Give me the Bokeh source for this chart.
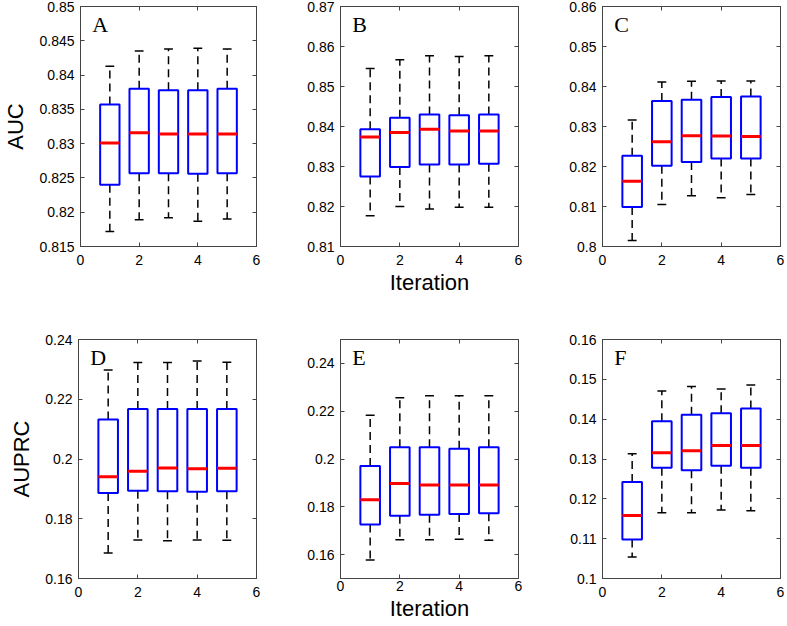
from bokeh.plotting import figure
from bokeh.models import LinearAxis, Range1d, FixedTicker, Label, ColumnDataSource
from bokeh.layouts import column, row
from bokeh.transform import dodge
from bokeh.embed import file_html
from bokeh.resources import INLINE

iterations = [1, 2, 3, 4, 5]

# Panel A (AUC)
a_low = [0.8172, 0.8189, 0.8192, 0.8187, 0.8190]
a_q1 = [0.8240, 0.8257, 0.8257, 0.8256, 0.8257]
a_med = [0.8301, 0.8316, 0.8314, 0.8314, 0.8314]
a_q3 = [0.8357, 0.8380, 0.8378, 0.8378, 0.8380]
a_high = [0.8413, 0.8435, 0.8438, 0.8439, 0.8438]

# Panel B (AUC)
b_low = [0.8177, 0.8200, 0.8194, 0.8198, 0.8198]
b_q1 = [0.8275, 0.8299, 0.8305, 0.8305, 0.8307]
b_med = [0.8374, 0.8385, 0.8393, 0.8389, 0.8389]
b_q3 = [0.8393, 0.8422, 0.8430, 0.8428, 0.8430]
b_high = [0.8545, 0.8567, 0.8577, 0.8575, 0.8577]

# Panel C (AUC)
c_low = [0.8015, 0.8105, 0.8127, 0.8122, 0.8130]
c_q1 = [0.8099, 0.8202, 0.8211, 0.8220, 0.8220]
c_med = [0.8163, 0.8262, 0.8277, 0.8276, 0.8275]
c_q3 = [0.8227, 0.8364, 0.8367, 0.8374, 0.8375]
c_high = [0.8316, 0.8411, 0.8413, 0.8414, 0.8414]

# Panel D (AUPRC)
d_low = [0.1685, 0.1729, 0.1726, 0.1729, 0.1728]
d_q1 = [0.1886, 0.1894, 0.1892, 0.1890, 0.1892]
d_med = [0.1941, 0.1959, 0.1970, 0.1967, 0.1969]
d_q3 = [0.2132, 0.2167, 0.2167, 0.2167, 0.2167]
d_high = [0.2298, 0.2323, 0.2323, 0.2328, 0.2324]

# Panel E (AUPRC)
e_low = [0.1577, 0.1662, 0.1662, 0.1664, 0.1660]
e_q1 = [0.1726, 0.1763, 0.1767, 0.1770, 0.1773]
e_med = [0.1829, 0.1898, 0.1891, 0.1891, 0.1891]
e_q3 = [0.1971, 0.2049, 0.2049, 0.2043, 0.2049]
e_high = [0.2183, 0.2256, 0.2265, 0.2265, 0.2265]

# Panel F (AUPRC)
f_low = [0.1054, 0.1165, 0.1165, 0.1172, 0.1170]
f_q1 = [0.1098, 0.1278, 0.1272, 0.1283, 0.1278]
f_med = [0.1158, 0.1316, 0.1321, 0.1334, 0.1334]
f_q3 = [0.1242, 0.1395, 0.1411, 0.1415, 0.1427]
f_high = [0.1313, 0.1471, 0.1482, 0.1476, 0.1486]

panel_letters = ["A", "B", "C", "D", "E", "F"]
y_ranges = [(0.815, 0.85), (0.81, 0.87), (0.80, 0.86),
            (0.16, 0.24), (0.15, 0.25), (0.10, 0.16)]
y_ticks = [
    [0.815, 0.82, 0.825, 0.83, 0.835, 0.84, 0.845, 0.85],
    [0.81, 0.82, 0.83, 0.84, 0.85, 0.86, 0.87],
    [0.80, 0.81, 0.82, 0.83, 0.84, 0.85, 0.86],
    [0.16, 0.18, 0.20, 0.22, 0.24],
    [0.16, 0.18, 0.20, 0.22, 0.24],
    [0.10, 0.11, 0.12, 0.13, 0.14, 0.15, 0.16],
]
y_tick_labels = [
    ["0.815", "0.82", "0.825", "0.83", "0.835", "0.84", "0.845", "0.85"],
    ["0.81", "0.82", "0.83", "0.84", "0.85", "0.86", "0.87"],
    ["0.8", "0.81", "0.82", "0.83", "0.84", "0.85", "0.86"],
    ["0.16", "0.18", "0.2", "0.22", "0.24"],
    ["0.16", "0.18", "0.2", "0.22", "0.24"],
    ["0.1", "0.11", "0.12", "0.13", "0.14", "0.15", "0.16"],
]
x_ticks = [0, 2, 4, 6]
y_axis_labels = ["AUC", "", "", "AUPRC", "", ""]
x_axis_labels = ["", "Iteration", "", "", "Iteration", ""]

data = [
    (a_low, a_q1, a_med, a_q3, a_high),
    (b_low, b_q1, b_med, b_q3, b_high),
    (c_low, c_q1, c_med, c_q3, c_high),
    (d_low, d_q1, d_med, d_q3, d_high),
    (e_low, e_q1, e_med, e_q3, e_high),
    (f_low, f_q1, f_med, f_q3, f_high),
]

SANS = "Liberation Sans"
SERIF = "Liberation Serif"
FRAME_COLOR = "#444444"
BOX_W = 0.66
CAP_W = 0.3


def mirror_axis(ticks):
    # tick marks only, no labels (mirrored frame ticks)
    return LinearAxis(ticker=FixedTicker(ticks=ticks),
                      major_label_text_color=None, major_label_text_font_size="1px",
                      major_label_standoff=0, major_tick_in=4, major_tick_out=0,
                      minor_tick_line_color=None, axis_line_color=FRAME_COLOR,
                      major_tick_line_color=FRAME_COLOR)


def make_panel(i):
    col = i % 3
    rw = i // 3
    lo, q1, med, q3, hi = data[i]
    src = ColumnDataSource(dict(x=iterations, low=lo, q1=q1, med=med, q3=q3, high=hi))
    left = 78
    frame_w = 178
    right = 6 if col < 2 else 4
    width = left + frame_w + right
    if rw == 0:
        top, frame_h, bottom = 6, 240, 84
    else:
        top, frame_h, bottom = 9, 239, 46
    height = top + frame_h + bottom
    ymin, ymax = y_ranges[i]
    p = figure(width=width, height=height, output_backend="svg", toolbar_location=None,
               x_range=Range1d(0, 6), y_range=Range1d(ymin, ymax),
               min_border_left=left, min_border_right=right,
               min_border_top=top, min_border_bottom=bottom,
               title=None, tools="")
    p.grid.visible = False
    p.background_fill_color = "white"
    p.border_fill_color = "white"
    p.outline_line_color = FRAME_COLOR
    p.outline_line_width = 1

    for ax in p.axis:
        ax.axis_line_color = FRAME_COLOR
        ax.major_tick_line_color = FRAME_COLOR
        ax.major_tick_in = 4
        ax.major_tick_out = 0
        ax.minor_tick_line_color = None
        ax.major_label_text_font = SANS
        ax.major_label_text_font_size = "14px"
        ax.major_label_text_color = "black"
        ax.axis_label_text_font = SANS
        ax.axis_label_text_font_size = "22px"
        ax.axis_label_text_font_style = "normal"
        ax.axis_label_text_color = "black"

    p.xaxis.ticker = FixedTicker(ticks=x_ticks)
    p.xaxis.major_label_standoff = 2 if i == 4 else 8
    p.xaxis.axis_label_standoff = 2
    if x_axis_labels[i]:
        p.xaxis.axis_label = x_axis_labels[i]

    p.yaxis.ticker = FixedTicker(ticks=y_ticks[i])
    p.yaxis.major_label_overrides = {t: s for t, s in zip(y_ticks[i], y_tick_labels[i])}
    p.yaxis.major_label_standoff = 6
    p.yaxis.axis_label_standoff = 8
    if y_axis_labels[i]:
        p.yaxis.axis_label = y_axis_labels[i]

    p.add_layout(mirror_axis(x_ticks), "above")
    p.add_layout(mirror_axis(y_ticks[i]), "right")

    # whiskers
    p.segment(x0="x", y0="q3", x1="x", y1="high", source=src, line_color="black",
              line_width=1.5, line_dash="8 5")
    p.segment(x0="x", y0="q1", x1="x", y1="low", source=src, line_color="black",
              line_width=1.5, line_dash="8 5")
    # caps
    p.segment(x0=dodge("x", -CAP_W / 2), y0="high", x1=dodge("x", CAP_W / 2), y1="high",
              source=src, line_color="black", line_width=1.5)
    p.segment(x0=dodge("x", -CAP_W / 2), y0="low", x1=dodge("x", CAP_W / 2), y1="low",
              source=src, line_color="black", line_width=1.5)
    # boxes
    p.vbar(x="x", width=BOX_W, top="q3", bottom="q1", source=src,
           fill_color="white", line_color="#0000FF", line_width=2)
    # medians
    p.segment(x0=dodge("x", -BOX_W / 2), y0="med", x1=dodge("x", BOX_W / 2), y1="med",
              source=src, line_color="#FF0000", line_width=3)

    # panel letter
    lbl = Label(x=0.4, y=ymax - (ymax - ymin) * 0.075, text=panel_letters[i],
                text_font=SERIF, text_font_size="22px", text_color="black",
                text_align="left", text_baseline="middle")
    p.add_layout(lbl)
    return p


panels = [make_panel(i) for i in range(6)]
layout = column(row(*panels[:3], spacing=0), row(*panels[3:], spacing=0), spacing=0)

open("out.html", "w").write(file_html(layout, INLINE))
